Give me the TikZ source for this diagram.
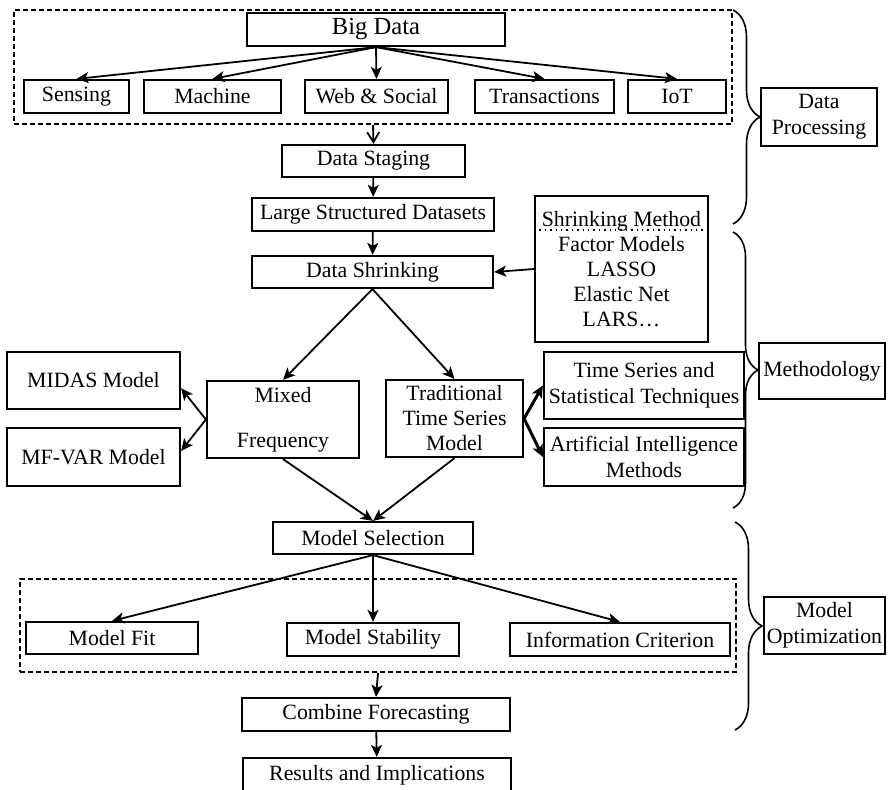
\documentclass[tikz,border=0pt]{standalone}
\usepackage{fontspec}
\setmainfont{Liberation Serif}
\usetikzlibrary{arrows.meta,decorations.pathreplacing}

\tikzset{
  box/.style={draw, line width=1.1pt, inner sep=0pt, align=center,
    font=\fontsize{10.9}{13}\selectfont},
  grpbox/.style={draw, line width=1pt, dash pattern=on 2.5pt off 1.5pt, inner sep=0pt},
  arr/.style={-{Stealth[length=6pt,width=5.5pt,inset=1.5pt]}, line width=0.9pt},
  brc/.style={decorate, decoration={brace, amplitude=#1}, line width=0.8pt},
}

\begin{document}
\begin{tikzpicture}[x=0.5pt, y=-0.5pt]
  \useasboundingbox (0,0) rectangle (888,789);
  % data sources
  \node[grpbox, minimum width=359pt, minimum height=57pt] (grpsrc) at (373,67) {};
  \node[box, minimum width=129pt, minimum height=16.5pt, font=\fontsize{12.3}{14}\selectfont] (bigdata) at (376,29.5) {Big Data};
  \node[box, minimum width=52.5pt, minimum height=16.5pt] (sensing) at (76.5,96.5) {Sensing};
  \node[box, minimum width=68.5pt, minimum height=16.5pt] (machine) at (212.5,96.5) {Machine};
  \node[box, minimum width=71.5pt, minimum height=16.5pt] (social) at (376.5,96.5) {Web \& Social};
  \node[box, minimum width=69.5pt, minimum height=16.5pt] (trans) at (544.5,96.5) {Transactions};
  \node[box, minimum width=49pt, minimum height=16.5pt] (iot) at (677,96.5) {IoT};
  \foreach \src in {sensing,machine,social,trans,iot}
    \draw[arr] (bigdata.south) -- (\src.north);

  % staging and shrinking
  \node[box, minimum width=91.5pt, minimum height=16pt] (staging) at (373.5,161) {Data Staging};
  \node[box, minimum width=121pt, minimum height=16.5pt] (large) at (373,214.5) {Large Structured Datasets};
  \node[box, minimum width=120.5pt, minimum height=16pt] (shrink) at (372.5,272) {Data Shrinking};
  \node[box, minimum width=86.5pt, minimum height=73pt, font=\fontsize{10.9}{12.5}\selectfont] (methods) at (621.5,269)
    {Shrinking Method\\Factor Models\\LASSO\\Elastic Net\\LARS…};
  \draw[dotted, line width=0.7pt] ([yshift=-17.5pt]methods.north west) -- ([yshift=-17.5pt]methods.north east);
  \draw[arr, -{Straight Barb[length=5pt,width=6pt]}] (grpsrc.south) -- (staging.north);
  \draw[arr] (staging) -- (large);
  \draw[arr] (large) -- (shrink);
  \draw[arr] (methods.west) -- (shrink.east);

  % models
  \node[box, minimum width=76pt, minimum height=38.5pt] (mixed) at (283,419.5) {Mixed\\[9.5pt]Frequency};
  \node[box, minimum width=68.5pt, minimum height=38.5pt, font=\fontsize{10.9}{12.5}\selectfont] (trad) at (454.5,418.5)
    {Traditional\\Time Series\\Model};
  \node[box, minimum width=86.5pt, minimum height=28.5pt] (midas) at (93.5,380.5) {MIDAS Model};
  \node[box, minimum width=86.5pt, minimum height=29pt] (mfvar) at (93.5,457) {MF-VAR Model};
  \node[box, minimum width=100pt, minimum height=33.5pt] (tsst) at (644,385.5) {Time Series and\\Statistical Techniques};
  \node[box, minimum width=100pt, minimum height=29pt] (ai) at (644,457) {Artificial Intelligence\\Methods};
  \draw[arr] (shrink.south) -- (mixed.north);
  \draw[arr] (shrink.south) -- (trad.north);
  \draw[arr] (mixed.west) -- (midas.-5);
  \draw[arr] (mixed.west) -- (mfvar.4);
  \draw[arr, line width=1.5pt] (trad.east) -- (tsst.west);
  \draw[arr, line width=1.5pt] (trad.east) -- (ai.west);

  % selection
  \node[box, minimum width=100pt, minimum height=16pt] (select) at (373,538) {Model Selection};
  \node[grpbox, minimum width=358pt, minimum height=46.5pt] (grpmodel) at (378,625.5) {};
  \node[box, minimum width=86pt, minimum height=16pt] (fit) at (112,638) {Model Fit};
  \node[box, minimum width=86pt, minimum height=16.5pt] (stab) at (373,639.5) {Model Stability};
  \node[box, minimum width=110pt, minimum height=16.5pt] (crit) at (620,639.5) {Information Criterion};
  \node[box, minimum width=134pt, minimum height=16.5pt] (combine) at (376,714.5) {Combine Forecasting};
  \node[box, minimum width=134pt, minimum height=17pt] (results) at (377,775) {Results and Implications};
  \draw[arr] (mixed.south) -- (select.north);
  \draw[arr] (trad.south) -- (select.north);
  \foreach \crit in {fit,stab,crit}
    \draw[arr] (select.south) -- (\crit.north);
  \draw[arr] (grpmodel.south) -- (combine.north);
  \draw[arr] (combine) -- (results);

  % stages
  \node[box, minimum width=58pt, minimum height=29pt] (dproc) at (819,117) {Data\\Processing};
  \node[box, minimum width=63pt, minimum height=28pt] (methodo) at (822,371) {Methodology};
  \node[box, minimum width=60.5pt, minimum height=28.5pt] (modopt) at (824.5,625.5) {Model\\Optimization};
  \draw[brc=13.5pt] (733,10) -- (733,224);
  \draw[brc=12.5pt] (733,232) -- (733,508);
  \draw[brc=13.5pt] (735,522) -- (735,730);
\end{tikzpicture}
\end{document}
